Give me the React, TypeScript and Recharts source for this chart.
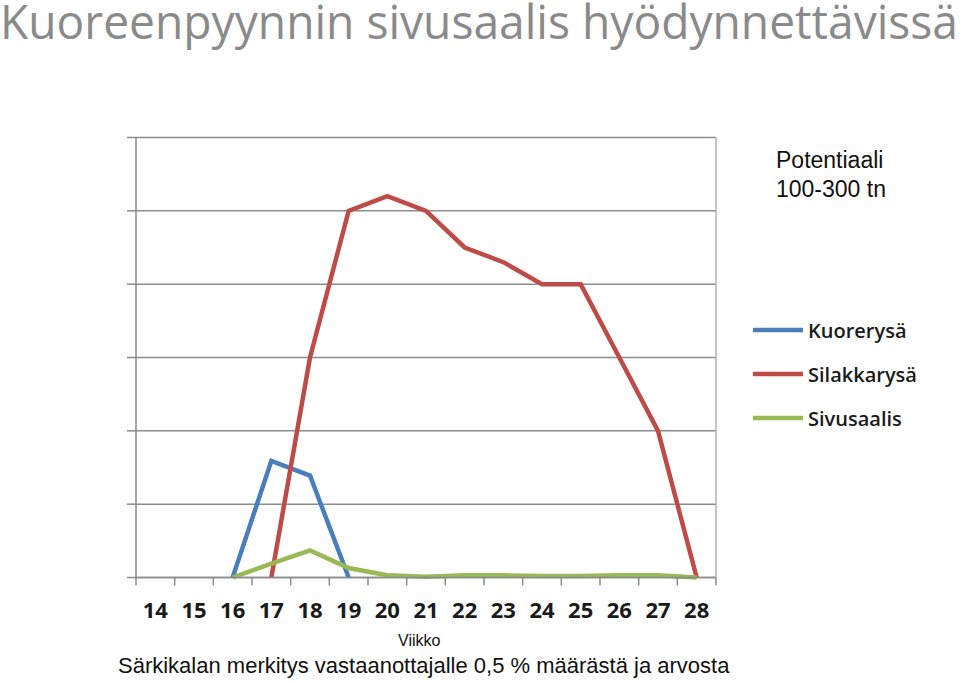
import React from 'react';
import { CartesianGrid, Legend, Line, LineChart, XAxis, YAxis } from 'recharts';

const weeks = ['14', '15', '16', '17', '18', '19', '20', '21', '22', '23', '24', '25', '26', '27', '28'];
const kuorerysa = [null, null, 0, 1.59, 1.39, 0, null, null, null, null, null, null, null, null, null];
const silakkarysa = [null, null, null, 0, 3.0, 5.0, 5.2, 5.0, 4.5, 4.3, 4.0, 4.0, 3.0, 2.0, 0];
const sivusaalis = [null, null, 0, 0.19, 0.37, 0.13, 0.03, 0.01, 0.03, 0.03, 0.02, 0.02, 0.03, 0.03, 0];
const yTicks = [0, 1, 2, 3, 4, 5, 6];

const SERIES = [
  { key: 'kuorerysa', name: 'Kuorerysä', color: '#4a7ebb' },
  { key: 'silakkarysa', name: 'Silakkarysä', color: '#be4b48' },
  { key: 'sivusaalis', name: 'Sivusaalis', color: '#98b954' },
];

const data = weeks.map((w, i) => ({
  week: w,
  kuorerysa: kuorerysa[i],
  silakkarysa: silakkarysa[i],
  sivusaalis: sivusaalis[i],
}));

const W = 960;
const H = 684;
const AXIS_W = 12;
const margin = { top: 137.5, right: 244 - AXIS_W, bottom: 76.5, left: 136 - AXIS_W };
const halfBand = (W - 136 - 244) / weeks.length / 2;

const WeekTick = (props: any) => {
  const { x, y, payload } = props;
  const off = payload?.offset || halfBand;
  const last = payload?.value === weeks[weeks.length - 1];
  return (
    <g>
      <line x1={x - off} y1={y} x2={x - off} y2={y + 8} stroke="#8a8a8a" strokeWidth={1.5} />
      {last && <line x1={x + off} y1={y} x2={x + off} y2={y + 8} stroke="#8a8a8a" strokeWidth={1.5} />}
      <text x={x} y={y + 40} textAnchor="middle" fontFamily="'Open Sans', sans-serif" fontWeight={700} fontSize={22} fill="#1a1a1a">
        {payload.value}
      </text>
    </g>
  );
};

const LegendBox = (props: any) => {
  const items = props.payload || [];
  return (
    <div>
      {items.map((it: any) => (
        <div key={it.value} style={{ display: 'flex', alignItems: 'center', height: 44 }}>
          <svg width={54} height={10}>
            <line x1={1} y1={5} x2={51} y2={5} stroke={it.color} strokeWidth={4.5} />
          </svg>
          <span style={{ fontFamily: "'Open Sans', sans-serif", fontWeight: 600, fontSize: 20, color: '#1a1a1a', marginLeft: 2 }}>
            {it.value}
          </span>
        </div>
      ))}
    </div>
  );
};

export default function App() {
  return (
    <div style={{ position: 'absolute', left: 0, top: 0, width: W, height: H, background: '#fff', overflow: 'hidden' }}>
      <svg width={W} height={54} style={{ position: 'absolute', left: 0, top: 0 }}>
        <text x={0} y={39} textLength={958} lengthAdjust="spacingAndGlyphs" fontFamily="'Open Sans', sans-serif" fontSize={47} fill="#8a8a8a">
          Kuoreenpyynnin sivusaalis hyödynnettävissä
        </text>
      </svg>

      <LineChart width={W} height={H} data={data} margin={margin}>
        <CartesianGrid vertical={false} stroke="#8c8c8c" strokeWidth={1.5} />
        <XAxis
          dataKey="week"
          scale="band"
          height={30}
          tickSize={0}
          tickMargin={0}
          tickLine={false}
          axisLine={{ stroke: '#8a8a8a', strokeWidth: 1.5 }}
          tick={<WeekTick />}
          interval={0}
        />
        <YAxis
          domain={[0, 6]}
          ticks={yTicks}
          width={AXIS_W}
          tickSize={9}
          tickFormatter={() => ''}
          axisLine={{ stroke: '#8a8a8a', strokeWidth: 1.5 }}
          tickLine={{ stroke: '#8a8a8a', strokeWidth: 1.5 }}
        />
        <YAxis
          yAxisId="right"
          orientation="right"
          domain={[0, 6]}
          ticks={yTicks}
          width={AXIS_W}
          tickSize={4}
          tickFormatter={() => ''}
          axisLine={{ stroke: '#a7b2c0', strokeWidth: 1.5 }}
          tickLine={{ stroke: '#a7b2c0', strokeWidth: 1.5 }}
        />
        {SERIES.map((s) => (
          <Line
            key={s.key}
            type="linear"
            dataKey={s.key}
            name={s.name}
            stroke={s.color}
            strokeWidth={4.5}
            dot={false}
            activeDot={false}
            isAnimationActive={false}
          />
        ))}
        <Legend
          layout="vertical"
          align="center"
          verticalAlign="middle"
          content={<LegendBox />}
          wrapperStyle={{ left: 752, top: 308, width: 200 }}
        />
      </LineChart>

      <div style={{ position: 'absolute', left: 776, top: 146, fontFamily: "'Liberation Sans', Arial, sans-serif", fontSize: 23, lineHeight: '29px', color: '#111' }}>
        Potentiaali
        <br />
        100-300 tn
      </div>
      <div style={{ position: 'absolute', left: 398, top: 632, fontFamily: "'Liberation Sans', Arial, sans-serif", fontSize: 16, color: '#111' }}>
        Viikko
      </div>
      <div style={{ position: 'absolute', left: 118, top: 653, fontFamily: "'Liberation Sans', Arial, sans-serif", fontSize: 22, color: '#111', whiteSpace: 'nowrap' }}>
        Särkikalan merkitys vastaanottajalle 0,5 % määrästä ja arvosta
      </div>
    </div>
  );
}
